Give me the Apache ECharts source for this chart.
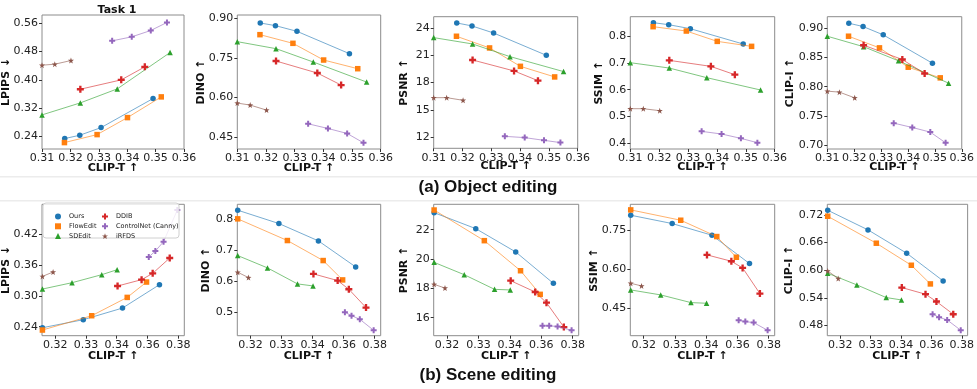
<!DOCTYPE html>
<html>
<head>
<meta charset="utf-8">
<script src="https://cdn.jsdelivr.net/npm/echarts@6/dist/echarts.min.js"></script>
<style>
  html, body { margin: 0; padding: 0; background: #fff; }
  #main { width: 977px; height: 389px; }
</style>
</head>
<body>
<div id="main"></div>
<script>
// methods, in legend order
var methods = ['Ours', 'FlowEdit', 'SDEdit', 'DDIB', 'ControlNet (Canny)', 'iRFDS'];
var colors = ['#1f77b4', '#ff7f0e', '#2ca02c', '#d62728', '#9467bd', '#8c564b'];

// (a) Object editing, one inner array per method
var objClipT = [
  [0.318, 0.3233, 0.3308, 0.3491],
  [0.3179, 0.3294, 0.3401, 0.352],
  [0.31, 0.3235, 0.3365, 0.3551],
  [0.3235, 0.3379, 0.3462],
  [0.3347, 0.3416, 0.3483, 0.354],
  [0.31, 0.3145, 0.3202]
];
var objLpips = [
  [0.2344, 0.2438, 0.2654, 0.3473],
  [0.2231, 0.2456, 0.2936, 0.352],
  [0.3012, 0.3351, 0.3746, 0.4772],
  [0.3736, 0.40, 0.4367],
  [0.5101, 0.5214, 0.5393, 0.5619],
  [0.4414, 0.4442, 0.4546]
];
var objDino = [
  [0.8823, 0.8722, 0.8507, 0.766],
  [0.838, 0.8052, 0.742, 0.7091],
  [0.8115, 0.785, 0.7344, 0.6585],
  [0.7382, 0.6927, 0.6472],
  [0.5005, 0.4828, 0.4638, 0.4284],
  [0.5789, 0.5713, 0.5523]
];
var objPsnr = [
  [24.59, 24.26, 23.48, 21.02],
  [23.12, 21.83, 19.80, 18.63],
  [22.97, 22.27, 20.87, 19.22],
  [20.50, 19.29, 18.22],
  [12.07, 11.93, 11.63, 11.38],
  [16.34, 16.34, 16.05]
];
var objSsim = [
  [0.8497, 0.8422, 0.8273, 0.7702],
  [0.8348, 0.8186, 0.7801, 0.7615],
  [0.7006, 0.6807, 0.6447, 0.5988],
  [0.7093, 0.687, 0.6559],
  [0.4447, 0.4348, 0.4186, 0.4025],
  [0.5292, 0.5292, 0.5217]
];
var objClipI = [
  [0.9079, 0.9023, 0.8881, 0.8399],
  [0.8858, 0.866, 0.8331, 0.815],
  [0.8858, 0.868, 0.8439, 0.806],
  [0.8705, 0.8462, 0.8224],
  [0.738, 0.7306, 0.7227, 0.7045],
  [0.7924, 0.7907, 0.781]
];

// (b) Scene editing
var sceneClipT = [
  [0.3138, 0.3337, 0.3528, 0.3708],
  [0.3138, 0.3378, 0.3551, 0.3645],
  [0.3138, 0.3282, 0.3427, 0.3502],
  [0.3504, 0.3621, 0.3675, 0.3758],
  [0.3656, 0.3688, 0.3728, 0.3795],
  [0.3138, 0.319]
];
var sceneLpips = [
  [0.238, 0.2536, 0.2762, 0.3216],
  [0.2335, 0.2613, 0.2969, 0.3267],
  [0.3131, 0.3254, 0.341, 0.3507],
  [0.319, 0.3313, 0.3436, 0.3734],
  [0.3753, 0.387, 0.4051, 0.4666],
  [0.3377, 0.3462]
];
var sceneDino = [
  [0.829, 0.786, 0.7301, 0.6462],
  [0.8011, 0.7312, 0.6667, 0.6043],
  [0.6828, 0.643, 0.5914, 0.5849],
  [0.6237, 0.6022, 0.5742, 0.5151],
  [0.5, 0.4892, 0.4774, 0.4419],
  [0.629, 0.6118]
];
var scenePsnr = [
  [23.16, 22.07, 20.48, 18.34],
  [23.34, 21.25, 19.2, 17.59],
  [19.77, 18.93, 17.93, 17.89],
  [18.52, 17.75, 17.02, 15.36],
  [15.45, 15.45, 15.39, 15.14],
  [18.27, 18.02]
];
var sceneSsim = [
  [0.8062, 0.7743, 0.7296, 0.6211],
  [0.8266, 0.787, 0.7245, 0.6453],
  [0.5202, 0.5011, 0.4717, 0.4692],
  [0.6543, 0.63, 0.6045, 0.5062],
  [0.404, 0.3989, 0.3951, 0.3657],
  [0.5457, 0.5355]
];
var sceneClipI = [
  [0.7301, 0.6875, 0.6369, 0.5769],
  [0.7171, 0.6586, 0.6108, 0.5703],
  [0.5935, 0.5682, 0.5407, 0.5356],
  [0.5624, 0.548, 0.5321, 0.5046],
  [0.5046, 0.4981, 0.4922, 0.4698],
  [0.5985, 0.5819]
];

// tick positions and their printed labels
var objXTicks = [0.31, 0.32, 0.33, 0.34, 0.35, 0.36];
var objXLabels = ['0.31', '0.32', '0.33', '0.34', '0.35', '0.36'];
var sceneXTicks = [0.32, 0.335, 0.35, 0.365, 0.38];
var sceneXLabels = ['0.32', '0.33', '0.34', '0.36', '0.38'];

var plusPath = 'path://M-1,-3L1,-3L1,-1L3,-1L3,1L1,1L1,3L-1,3L-1,1L-3,1L-3,-1L-1,-1Z';
var starPath = 'path://M0,-10L2.35,-3.24L9.51,-3.09L3.8,1.24L5.88,8.09L0,4L-5.88,8.09L-3.8,1.24L-9.51,-3.09L-2.35,-3.24Z';
var symbols = ['circle', 'rect', 'triangle', plusPath, plusPath, starPath];
var symSizes = [5.5, 5.5, 5.5, 7, 6, 6];

var panels = [
  { pos: [40, 15, 144, 134], xr: [0.31, 0.36], xt: objXTicks, xl: objXLabels, xg: 13.5, yr: [0.205, 0.583], yt: [0.24, 0.32, 0.40, 0.48, 0.56], dec: 2, name: 'LPIPS ↓', gap: 30, xs: objClipT, ys: objLpips },
  { pos: [237.3, 15, 143.4, 134], xr: [0.31, 0.36], xt: objXTicks, xl: objXLabels, xg: 13.5, yr: [0.405, 0.9125], yt: [0.45, 0.60, 0.75, 0.90], dec: 2, name: 'DINO ↑', gap: 31, xs: objClipT, ys: objDino },
  { pos: [433.7, 16.7, 144, 131.6], xr: [0.31, 0.36], xt: objXTicks, xl: objXLabels, xg: 12, yr: [10.75, 25.28], yt: [12, 15, 18, 21, 24], dec: 0, name: 'PSNR ↑', gap: 24, xs: objClipT, ys: objPsnr },
  { pos: [630.3, 16.7, 144.4, 132.3], xr: [0.31, 0.36], xt: objXTicks, xl: objXLabels, xg: 12.5, yr: [0.379, 0.872], yt: [0.4, 0.5, 0.6, 0.7, 0.8], dec: 1, name: 'SSIM ↑', gap: 26, xs: objClipT, ys: objSsim },
  { pos: [827.3, 16.7, 144.4, 132.3], xr: [0.31, 0.36], xt: objXTicks, xl: objXLabels, xg: 12.5, yr: [0.694, 0.919], yt: [0.70, 0.75, 0.80, 0.85, 0.90], dec: 2, name: 'CLIP-I ↑', gap: 32, xs: objClipT, ys: objClipI },
  { pos: [39.3, 204.3, 145, 131.4], xr: [0.3136, 0.3829], xt: sceneXTicks, xl: sceneXLabels, xg: 15, yr: [0.2225, 0.4777], yt: [0.24, 0.30, 0.36, 0.42], dec: 2, name: 'LPIPS ↓', gap: 30, xs: sceneClipT, ys: sceneLpips },
  { pos: [237.3, 204.3, 143.4, 131.4], xr: [0.3136, 0.3829], xt: sceneXTicks, xl: sceneXLabels, xg: 15, yr: [0.4245, 0.848], yt: [0.5, 0.6, 0.7, 0.8], dec: 1, name: 'DINO ↑', gap: 26, xs: sceneClipT, ys: sceneDino },
  { pos: [433.7, 204.3, 145, 131.4], xr: [0.3136, 0.3829], xt: sceneXTicks, xl: sceneXLabels, xg: 15, yr: [14.77, 23.73], yt: [16, 18, 20, 22], dec: 0, name: 'PSNR ↑', gap: 24, xs: sceneClipT, ys: scenePsnr },
  { pos: [630.3, 204.3, 144.4, 131.4], xr: [0.3136, 0.3829], xt: sceneXTicks, xl: sceneXLabels, xg: 15, yr: [0.345, 0.848], yt: [0.45, 0.60, 0.75], dec: 2, name: 'SSIM ↑', gap: 31, xs: sceneClipT, ys: sceneSsim },
  { pos: [827.3, 204.3, 144.4, 131.4], xr: [0.3136, 0.3829], xt: sceneXTicks, xl: sceneXLabels, xg: 15, yr: [0.458, 0.743], yt: [0.48, 0.54, 0.60, 0.66, 0.72], dec: 2, name: 'CLIP-I ↑', gap: 33, xs: sceneClipT, ys: sceneClipI }
];

var tickFont = { fontFamily: 'DejaVu Sans', fontSize: 11, color: '#222' };
var nameFont = { fontFamily: 'DejaVu Sans', fontSize: 11, fontWeight: 'bold', color: '#111' };

var grids = [], xAxes = [], yAxes = [], series = [];
panels.forEach(function (p, i) {
  grids.push({
    left: p.pos[0], top: p.pos[1], width: p.pos[2], height: p.pos[3],
    show: true, borderColor: '#8c8c8c', borderWidth: 1, backgroundColor: 'transparent'
  });
  xAxes.push({
    gridIndex: i, type: 'value', min: p.xr[0], max: p.xr[1],
    name: 'CLIP-T ↑', nameLocation: 'middle', nameGap: p.xg, nameTextStyle: nameFont,
    nameMoveOverlap: false,
    axisLine: { show: false },
    axisTick: { show: true, customValues: p.xt, length: 3, lineStyle: { color: '#333' } },
    axisLabel: Object.assign({
      customValues: p.xt, margin: 4,
      formatter: function (v) {
        for (var t = 0; t < p.xt.length; t++) {
          if (Math.abs(p.xt[t] - v) < 1e-6) return p.xl[t];
        }
        return v.toFixed(2);
      }
    }, tickFont),
    splitLine: { show: false }
  });
  yAxes.push({
    gridIndex: i, type: 'value', min: p.yr[0], max: p.yr[1],
    name: p.name, nameLocation: 'middle', nameGap: p.gap, nameRotate: 90, nameTextStyle: nameFont,
    nameMoveOverlap: false,
    axisLine: { show: false },
    axisTick: { show: true, customValues: p.yt, length: 3, lineStyle: { color: '#333' } },
    axisLabel: Object.assign({ customValues: p.yt, margin: 4, formatter: function (v) { return v.toFixed(p.dec); } }, tickFont),
    splitLine: { show: false }
  });
  methods.forEach(function (m, k) {
    series.push({
      type: 'line', name: m, xAxisIndex: i, yAxisIndex: i,
      data: p.xs[k].map(function (x, j) { return [x, p.ys[k][j]]; }),
      symbol: symbols[k], symbolSize: symSizes[k],
      itemStyle: { color: colors[k] },
      lineStyle: { color: colors[k], width: 1, opacity: 0.6 },
      showAllSymbol: true, clip: false, z: 2 + k
    });
  });
});

var legendText = { fontFamily: 'DejaVu Sans', fontSize: 6.5, color: '#222', lineHeight: 8, padding: [0, 0, 0, 3] };
function legendItems(ids) {
  return ids.map(function (k) { return { name: methods[k], icon: symbols[k] }; });
}

var option = {
  animation: false,
  backgroundColor: '#fff',
  grid: grids,
  xAxis: xAxes,
  yAxis: yAxes,
  series: series,
  legend: [
    { orient: 'vertical', left: 50, top: 207.5, itemWidth: 6, itemHeight: 6, itemGap: 1.8, z: 20,
      textStyle: legendText, data: legendItems([0, 1, 2]), selectedMode: false },
    { orient: 'vertical', left: 97, top: 207.5, itemWidth: 6, itemHeight: 6, itemGap: 1.8, z: 20,
      textStyle: legendText, data: legendItems([3, 4, 5]), selectedMode: false }
  ],
  title: [
    { text: 'Task 1', left: 112, top: 0, textAlign: 'center',
      textStyle: { fontFamily: 'DejaVu Sans', fontSize: 11, fontWeight: 'bold', color: '#111' } }
  ],
  graphic: [
    { type: 'rect', shape: { x: 0, y: 176, width: 977, height: 1.5 }, style: { fill: '#ececec' }, z: 0 },
    { type: 'rect', shape: { x: 0, y: 200, width: 977, height: 1.5 }, style: { fill: '#ececec' }, z: 0 },
    { type: 'text', x: 488, y: 187, z: 5,
      style: { text: '(a) Object editing', x: 0, y: 0, textAlign: 'center', textVerticalAlign: 'middle',
        font: 'bold 17px "Liberation Sans"', fill: '#111' } },
    { type: 'text', x: 488, y: 375, z: 5,
      style: { text: '(b) Scene editing', x: 0, y: 0, textAlign: 'center', textVerticalAlign: 'middle',
        font: 'bold 17px "Liberation Sans"', fill: '#111' } },
    { type: 'rect', z: 15, shape: { x: 43, y: 203, width: 136, height: 35, r: 3 },
      style: { fill: 'rgba(255,255,255,0.8)', stroke: '#d0d0d0', lineWidth: 1 } }
  ]
};

var myChart = echarts.init(document.getElementById('main'));
myChart.setOption(option);
window.addEventListener('resize', function () {
  myChart.resize();
});
</script>
</body>
</html>
